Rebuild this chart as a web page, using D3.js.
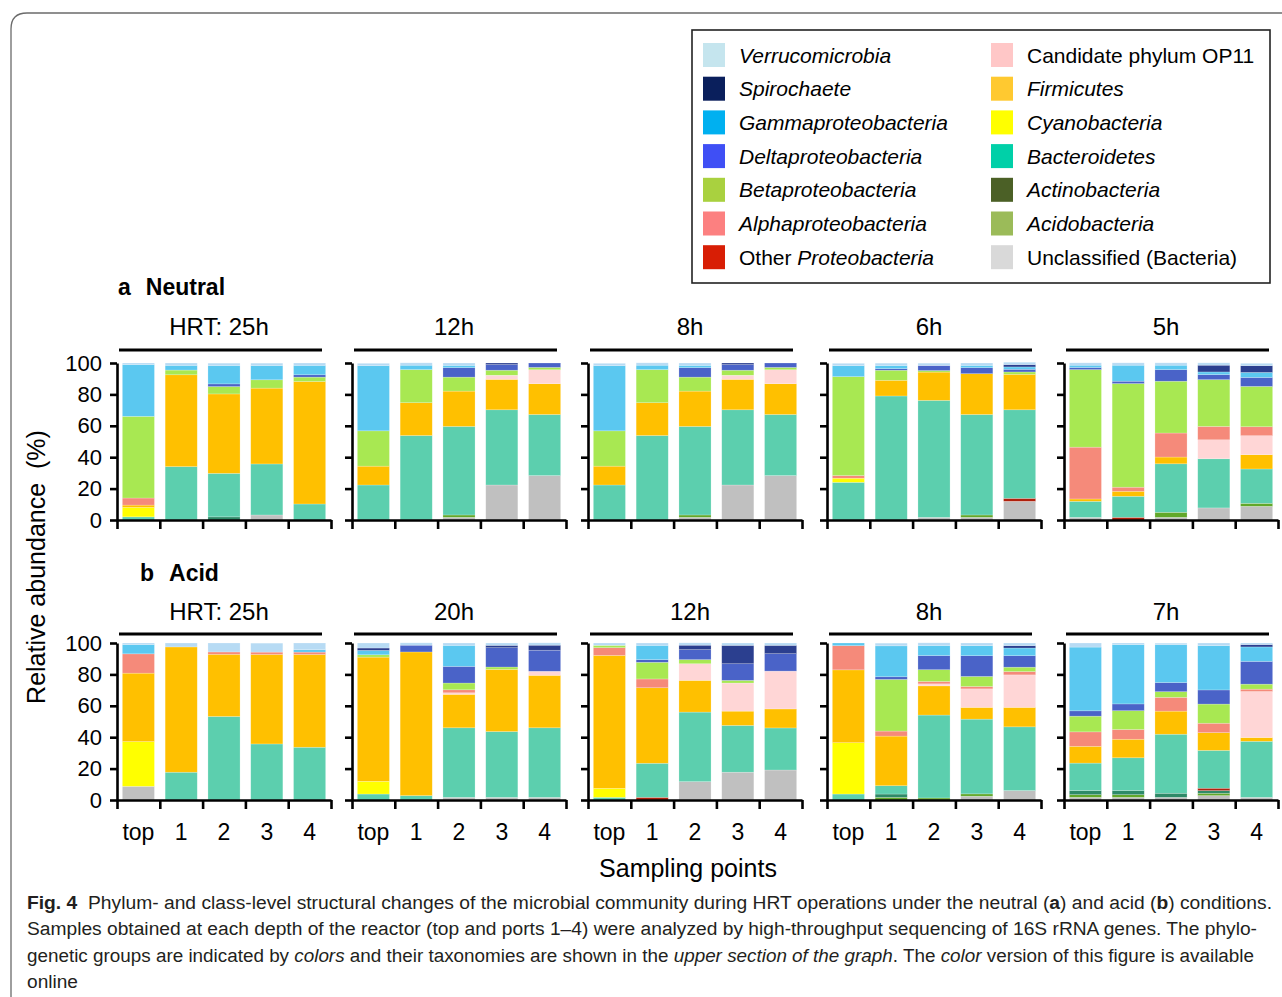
<!DOCTYPE html>
<html>
<head>
<meta charset="utf-8">
<script src="https://cdn.jsdelivr.net/npm/d3@7"></script>
<style>
  body { margin: 0; background: #fff; }
  svg { display: block; }
  text { font-family: "Liberation Sans", Arial, Helvetica, sans-serif; fill: #000; }
</style>
</head>
<body>
<div id="chart"></div>
<script>
// stacking order, bottom to top
const taxa = ["un", "acido", "actino", "othP", "bact", "cyano", "firm", "op11", "alpha", "beta", "delta", "gamma", "spiro", "verr"];

const taxaNames = {
  verr: "Verrucomicrobia", spiro: "Spirochaete", gamma: "Gammaproteobacteria", delta: "Deltaproteobacteria",
  beta: "Betaproteobacteria", alpha: "Alphaproteobacteria", othP: "Other Proteobacteria",
  op11: "Candidate phylum OP11", firm: "Firmicutes", cyano: "Cyanobacteria", bact: "Bacteroidetes",
  actino: "Actinobacteria", acido: "Acidobacteria", un: "Unclassified (Bacteria)"
};

const legendCol1 = ["verr", "spiro", "gamma", "delta", "beta", "alpha", "othP"];
const legendCol2 = ["op11", "firm", "cyano", "bact", "actino", "acido", "un"];

// colours of the bars and of the legend swatches
const barColors = {
  verr: "#b7dbf4", spiro: "#2b3f8f", gamma: "#5bc8f0", delta: "#4a63c8", beta: "#a8e852",
  alpha: "#f58a7a", othP: "#b0200c", op11: "#ffd6d6", firm: "#ffc000", cyano: "#ffff00",
  bact: "#5ccfae", actino: "#2e8a68", acido: "#62a82a", un: "#c0c0c0"
};
const swatchColors = {
  verr: "#c5e5ee", spiro: "#0a1f5c", gamma: "#00b0f0", delta: "#3f4ff5", beta: "#a9d13f",
  alpha: "#fc8080", othP: "#d81e05", op11: "#ffc7c7", firm: "#ffc930", cyano: "#ffff00",
  bact: "#00d0a8", actino: "#4b6026", acido: "#9bbb59", un: "#d9d9d9"
};

const samples = ["top", "1", "2", "3", "4"];
const neutralHRT = ["HRT: 25h", "12h", "8h", "6h", "5h"];
const acidHRT = ["HRT: 25h", "20h", "12h", "8h", "7h"];
const yTicks = [0, 20, 40, 60, 80, 100];

// relative abundance (%) per sample
const neutral25h = [
  { bact: 2, cyano: 6, firm: 1.5, alpha: 4.5, beta: 52, gamma: 33, verr: 1 },
  { bact: 34, firm: 58.5, beta: 3, gamma: 3, verr: 1.5 },
  { actino: 2, bact: 27.7, firm: 50.6, beta: 4.7, delta: 1.7, gamma: 11.7, verr: 1.5 },
  { un: 3.2, bact: 32.5, firm: 48.3, beta: 5.3, gamma: 9.1, verr: 1.5 },
  { bact: 10.2, firm: 78, beta: 2.8, delta: 1.5, gamma: 6, verr: 1.5 }
];
const neutral12h = [
  { bact: 22.3, firm: 12, beta: 22.5, gamma: 41.5, verr: 1.5 },
  { bact: 53.8, firm: 20.9, beta: 21.1, gamma: 2.8, verr: 1.5 },
  { un: 1.7, acido: 1.5, bact: 56.4, firm: 22.5, beta: 8.9, delta: 6, gamma: 1.5, verr: 1.5 },
  { un: 22.3, bact: 47.9, firm: 19.4, op11: 2.6, beta: 3.2, delta: 3.6, spiro: 1 },
  { un: 28.3, bact: 38.9, firm: 19.6, op11: 8.9, beta: 1.5, delta: 2.8 }
];
const neutral8h = [
  { bact: 22.3, firm: 12, beta: 22.5, gamma: 41.5, verr: 1.5 },
  { bact: 53.8, firm: 20.9, beta: 21.1, gamma: 2.8, verr: 1.5 },
  { un: 1.7, acido: 1.5, bact: 56.4, firm: 22.5, beta: 8.9, delta: 6, gamma: 1.5, verr: 1.5 },
  { un: 22.3, bact: 47.9, firm: 19.4, op11: 2.6, beta: 3.2, delta: 3.6, spiro: 1 },
  { un: 28.3, bact: 38.9, firm: 19.6, op11: 8.9, beta: 1.5, delta: 2.8 }
];
const neutral6h = [
  { bact: 24, cyano: 2.6, alpha: 1.7, beta: 63, gamma: 7, verr: 1.5 },
  { bact: 79, firm: 10, beta: 6.4, delta: 1, gamma: 2, verr: 1.5 },
  { un: 1.7, bact: 74.5, firm: 18, beta: 1, delta: 3.2, verr: 1.5 },
  { un: 1.7, acido: 1.5, bact: 64, firm: 26, delta: 3.8, gamma: 1.5, verr: 1.5 },
  { un: 11.9, othP: 1.9, bact: 56.4, firm: 22.6, beta: 1.5, delta: 1.7, gamma: 1.5, spiro: 1.5, verr: 1.5 }
];
const neutral5h = [
  { un: 1.7, bact: 10.2, firm: 1.5, alpha: 33, beta: 49.4, delta: 1.3, gamma: 1.5, verr: 1.5 },
  { othP: 1.7, bact: 13.4, firm: 3.2, alpha: 2.6, beta: 66, delta: 1.5, gamma: 10.2, verr: 1.5 },
  { un: 1.7, acido: 3.2, bact: 30.9, firm: 4.3, alpha: 15.3, beta: 33, delta: 7.4, gamma: 2.8, verr: 1.5 },
  { un: 7.7, bact: 31.3, op11: 12.1, alpha: 8.5, beta: 29.8, delta: 3.2, gamma: 1.7, spiro: 4.3, verr: 1.5 },
  { un: 8.7, acido: 1.9, bact: 21.9, firm: 9.1, op11: 12.1, alpha: 5.7, beta: 25.7, delta: 5.7, gamma: 3.2, spiro: 4.3, verr: 1.5 }
];

const acid25h = [
  { un: 8.7, cyano: 28.5, firm: 43.6, alpha: 12.3, gamma: 5.9, verr: 1 },
  { bact: 17.7, firm: 79.8, verr: 2.5 },
  { bact: 53.2, firm: 39.6, alpha: 1.5, verr: 5.7 },
  { bact: 35.7, firm: 57, alpha: 1.5, verr: 5.7 },
  { bact: 33.6, firm: 59.1, alpha: 1.5, gamma: 1.5, verr: 4.3 }
];
const acid20h = [
  { bact: 3.8, cyano: 8.1, firm: 79.1, beta: 1.5, gamma: 2.8, spiro: 1.5, verr: 3.2 },
  { bact: 2.8, firm: 91.5, delta: 4.3, verr: 1.5 },
  { un: 1.7, bact: 44.3, firm: 21.3, op11: 1, alpha: 1.9, beta: 4.3, delta: 10.6, gamma: 13.4, verr: 1.5 },
  { un: 1.7, bact: 41.9, firm: 39.6, beta: 1.5, delta: 12.3, spiro: 1.5, verr: 1.5 },
  { un: 1.7, bact: 44.3, firm: 33.4, op11: 2.6, delta: 13.4, spiro: 3.2, verr: 1.5 }
];
const acid12h = [
  { bact: 1.7, cyano: 5.7, firm: 84.7, alpha: 4.9, beta: 1.5, verr: 1.5 },
  { othP: 1.7, bact: 21.7, firm: 48.1, alpha: 5.6, beta: 10.6, delta: 1.7, gamma: 9.1, verr: 1.5 },
  { un: 11.7, bact: 44.3, firm: 20.2, op11: 10.6, beta: 2.6, delta: 6.4, spiro: 2.8, verr: 1.5 },
  { un: 17.7, bact: 29.8, firm: 9.1, op11: 17.9, beta: 1.7, delta: 10.6, spiro: 11.7, verr: 1.5 },
  { un: 19.1, bact: 26.8, firm: 12.1, op11: 24.1, delta: 11.1, spiro: 5.3, verr: 1.5 }
];
const acid8h = [
  { bact: 3.8, cyano: 32.7, firm: 46.4, alpha: 15.4, gamma: 1.7 },
  { acido: 1.7, actino: 2.1, bact: 5.3, firm: 31.6, alpha: 3.2, beta: 32.9, delta: 1.7, gamma: 19.7, verr: 1.7 },
  { acido: 1.3, bact: 52.8, firm: 18.6, op11: 1.3, alpha: 1.5, beta: 7.5, delta: 9, gamma: 6.4, verr: 1.7 },
  { un: 2.4, acido: 1.5, bact: 47.6, firm: 7.5, op11: 11.8, alpha: 1.5, beta: 6.4, delta: 13.2, gamma: 6.4, verr: 1.7 },
  { un: 6, bact: 40.6, firm: 12.4, op11: 20.7, alpha: 2.1, beta: 2.8, delta: 7.3, gamma: 4.9, spiro: 1.5, verr: 1.7 }
];
const acid7h = [
  { un: 1.7, acido: 1.7, actino: 2.6, bact: 17.5, firm: 10.7, alpha: 9.2, beta: 10, delta: 3.4, gamma: 40.6, verr: 2.6 },
  { un: 1.7, acido: 1.7, actino: 2.6, bact: 20.9, firm: 11.8, alpha: 6.2, beta: 12, delta: 4.3, gamma: 37.8, verr: 1 },
  { un: 1.7, actino: 2.6, bact: 37.6, firm: 14.7, alpha: 8.8, beta: 3.6, delta: 5.8, gamma: 24.1, verr: 1 },
  { un: 2.8, acido: 1.5, actino: 1.7, othP: 1.5, bact: 24.1, firm: 11.3, alpha: 6, beta: 12.2, delta: 9, gamma: 28.2, verr: 1.7 },
  { un: 1.7, bact: 35.7, firm: 2.4, op11: 29.3, alpha: 1.5, beta: 3.2, delta: 14.5, gamma: 9.2, spiro: 1.5, verr: 1 }
];

const rows = [
  { tag: "a", name: "Neutral", hrt: neutralHRT, panels: [neutral25h, neutral12h, neutral8h, neutral6h, neutral5h],
    top: 363, tagX: 118, tagY: 295, titleY: 335, lineY: 350, xLabels: false },
  { tag: "b", name: "Acid", hrt: acidHRT, panels: [acid25h, acid20h, acid12h, acid8h, acid7h],
    top: 643, tagX: 140, tagY: 581, titleY: 620, lineY: 634, xLabels: true }
];

const W = 1282, H = 997;
const pw = 214, ph = 157;
const panelX = [117, 352, 588, 827, 1064];

const svg = d3.select("#chart").append("svg")
  .attr("width", W)
  .attr("height", H);

// figure frame
svg.append("path")
  .attr("d", "M11,997 V29 Q11,13 27,13 H1282")
  .attr("fill", "none")
  .attr("stroke", "#6b6b6b")
  .attr("stroke-width", 1.3);

// legend
const legend = svg.append("g");
legend.append("rect")
  .attr("x", 692).attr("y", 30)
  .attr("width", 578).attr("height", 253)
  .attr("fill", "#fff")
  .attr("stroke", "#222")
  .attr("stroke-width", 1.6);

[legendCol1, legendCol2].forEach((col, ci) => {
  const colX = ci === 0 ? 703 : 991;
  col.forEach((k, i) => {
    const cy = 55 + i * 33.7;
    legend.append("rect")
      .attr("x", colX).attr("y", cy - 12)
      .attr("width", 22).attr("height", 24)
      .attr("fill", swatchColors[k]);
    const t = legend.append("text")
      .attr("x", colX + 36).attr("y", cy + 7.5)
      .attr("font-size", 21);
    if (k === "othP") {
      t.append("tspan").text("Other ");
      t.append("tspan").attr("font-style", "italic").text("Proteobacteria");
    } else {
      t.attr("font-style", (k === "op11" || k === "un") ? "normal" : "italic").text(taxaNames[k]);
    }
  });
});

const y = d3.scaleLinear().domain([0, 100]).range([ph, 0]);
const xBand = d3.scaleBand().domain(samples).range([0, pw]).paddingInner(0.25).paddingOuter(0.125);
const xEdge = d3.scaleLinear().domain([0, samples.length]).range([0, pw]);
const stack = d3.stack().keys(taxa).value((d, k) => d[k] || 0);

rows.forEach(row => {
  const tag = svg.append("text")
    .attr("x", row.tagX).attr("y", row.tagY)
    .attr("font-size", 23)
    .attr("font-weight", "bold");
  tag.append("tspan").text(row.tag);
  tag.append("tspan").attr("dx", 15).text(row.name);

  row.panels.forEach((data, pi) => {
    const x0 = panelX[pi];
    const g = svg.append("g").attr("transform", `translate(${x0},${row.top})`);

    // title with bar underneath
    svg.append("line")
      .attr("x1", x0 + 2).attr("x2", x0 + 205)
      .attr("y1", row.lineY).attr("y2", row.lineY)
      .attr("stroke", "#000").attr("stroke-width", 3);
    svg.append("text")
      .attr("x", x0 + 102).attr("y", row.titleY)
      .attr("text-anchor", "middle")
      .attr("font-size", 24)
      .text(row.hrt[pi]);

    const rowsData = data.map((d, i) => Object.assign({ sample: samples[i] }, d));
    const series = stack(rowsData);

    g.selectAll(".layer")
      .data(series)
      .join("g")
      .attr("class", "layer")
      .attr("fill", s => barColors[s.key])
      .selectAll("rect")
      .data(s => s.filter(p => p[1] - p[0] > 0))
      .join("rect")
      .attr("x", p => xBand(p.data.sample))
      .attr("width", xBand.bandwidth())
      .attr("y", p => y(p[1]))
      .attr("height", p => y(p[0]) - y(p[1]))
      .attr("stroke", "#fff")
      .attr("stroke-opacity", 0.35)
      .attr("stroke-width", 0.6);

    // y axis
    const yAxis = g.append("g")
      .call(d3.axisLeft(y).tickValues(yTicks).tickSize(7).tickSizeOuter(0).tickPadding(8)
        .tickFormat(pi === 0 ? d3.format("d") : ""));
    yAxis.select(".domain").attr("stroke-width", 2.6);
    yAxis.selectAll(".tick line").attr("stroke-width", 2.6);
    yAxis.selectAll(".tick text")
      .attr("font-size", 22)
      .attr("font-family", "Liberation Sans, Arial, sans-serif");

    // x axis with ticks at the band edges
    const xAxis = g.append("g")
      .attr("transform", `translate(0,${ph})`)
      .call(d3.axisBottom(xEdge).tickValues(d3.range(samples.length + 1)).tickSize(9).tickSizeOuter(0).tickFormat(""));
    xAxis.select(".domain").attr("stroke-width", 2.6);
    xAxis.selectAll(".tick line").attr("stroke-width", 2.6);

    if (row.xLabels) {
      const xl = g.append("g")
        .attr("transform", `translate(0,${ph})`)
        .call(d3.axisBottom(xBand).tickSize(0).tickPadding(24));
      xl.select(".domain").remove();
      xl.selectAll(".tick text")
        .attr("font-size", 23)
        .attr("font-family", "Liberation Sans, Arial, sans-serif");
    }
  });
});

// axis titles
svg.append("text")
  .attr("transform", "translate(45,567) rotate(-90)")
  .attr("text-anchor", "middle")
  .attr("font-size", 25)
  .style("white-space", "pre")
  .text("Relative abundance  (%)");

svg.append("text")
  .attr("x", 688).attr("y", 877)
  .attr("text-anchor", "middle")
  .attr("font-size", 25)
  .text("Sampling points");

// caption
const caption = [
  { y: 909, w: 1245, parts: [["Fig. 4", "b"], ["  Phylum- and class-level structural changes of the microbial community during HRT operations under the neutral (", ""], ["a", "b"], [") and acid (", ""], ["b", "b"], [") conditions.", ""]] },
  { y: 935, w: 1230, parts: [["Samples obtained at each depth of the reactor (top and ports 1–4) were analyzed by high-throughput sequencing of 16S rRNA genes. The phylo-", ""]] },
  { y: 962, w: 1227, parts: [["genetic groups are indicated by ", ""], ["colors", "i"], [" and their taxonomies are shown in the ", ""], ["upper section of the graph", "i"], [". The ", ""], ["color", "i"], [" version of this figure is available", ""]] },
  { y: 988, w: 51, parts: [["online", ""]] }
];
caption.forEach(line => {
  const t = svg.append("text")
    .attr("x", 27).attr("y", line.y)
    .attr("font-size", 18)
    .attr("textLength", line.w)
    .attr("lengthAdjust", "spacingAndGlyphs")
    .style("white-space", "pre")
    .style("fill", "#231f20");
  line.parts.forEach(([s, st]) => {
    t.append("tspan")
      .attr("font-weight", st === "b" ? "bold" : null)
      .attr("font-style", st === "i" ? "italic" : null)
      .text(s);
  });
});
</script>
</body>
</html>
